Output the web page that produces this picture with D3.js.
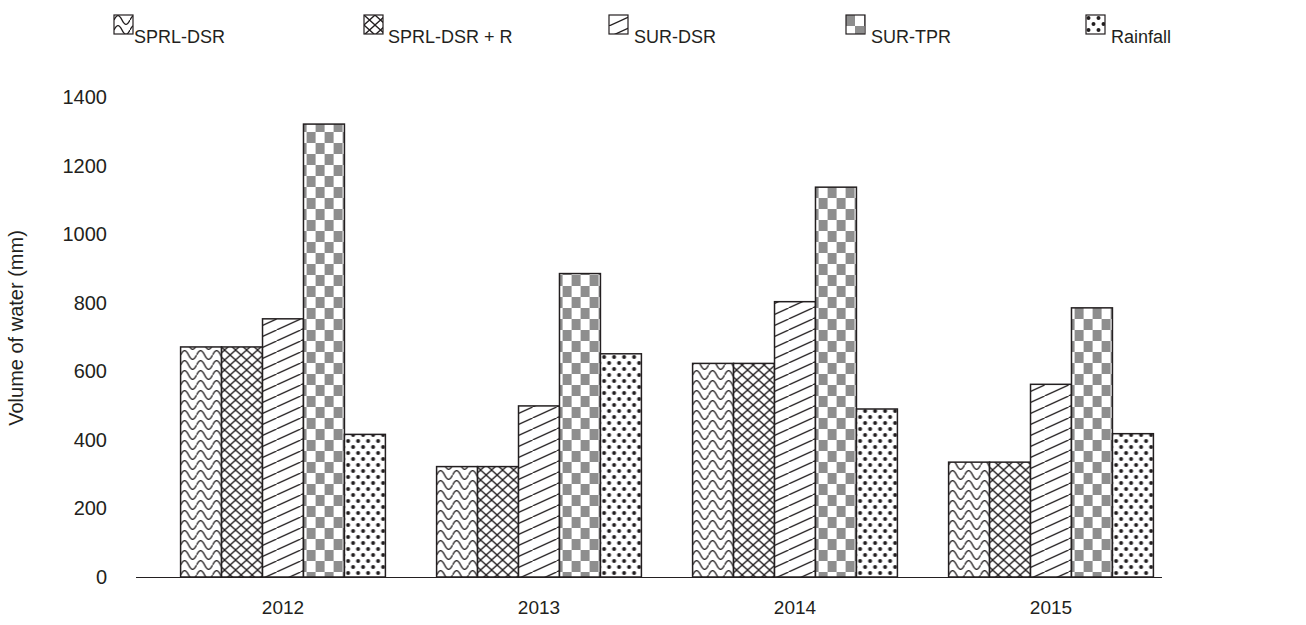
<!DOCTYPE html>
<html><head><meta charset="utf-8">
<script src="https://cdn.jsdelivr.net/npm/d3@7"></script>
<style>
html,body{margin:0;padding:0;background:#fff;}
svg text{font-family:"Liberation Sans",Arial,Helvetica,sans-serif;fill:#231f20;}
</style></head>
<body>
<svg id="chart" width="1306" height="625"></svg>
<script>
const years = ["2012","2013","2014","2015"];
const seriesNames = ["SPRL-DSR","SPRL-DSR + R","SUR-DSR","SUR-TPR","Rainfall"];
const sprlDsr   = [671, 322, 623, 335];
const sprlDsrR  = [671, 322, 623, 335];
const surDsr    = [753, 499, 803, 562];
const surTpr    = [1321, 885, 1137, 785];
const rainfall  = [416, 651, 490, 418];
const yTicks = [0,200,400,600,800,1000,1200,1400];

const seriesValues = [sprlDsr, sprlDsrR, surDsr, surTpr, rainfall];
const patternIds = ["pWave","pCross","pDiag","pCheck","pDots"];
const ink = "#231f20";

const svg = d3.select("#chart");
const defs = svg.append("defs");

// wave pattern
let p = defs.append("pattern").attr("id","pWave").attr("patternUnits","userSpaceOnUse")
  .attr("width",16).attr("height",10);
p.append("rect").attr("width",16).attr("height",10).attr("fill","#fff");
p.append("path").attr("d","M0,5 C3,-0.8 5,-0.8 8,5 C11,10.8 13,10.8 16,5")
  .attr("fill","none").attr("stroke",ink).attr("stroke-width",1.4);

// cross-hatch
p = defs.append("pattern").attr("id","pCross").attr("patternUnits","userSpaceOnUse")
  .attr("width",11).attr("height",10);
p.append("rect").attr("width",11).attr("height",10).attr("fill","#fff");
p.append("path").attr("d","M-1.1,-1 L12.1,11 M-1.1,11 L12.1,-1")
  .attr("stroke",ink).attr("stroke-width",1.3);

// diagonal
p = defs.append("pattern").attr("id","pDiag").attr("patternUnits","userSpaceOnUse")
  .attr("width",24).attr("height",11);
p.append("rect").attr("width",24).attr("height",11).attr("fill","#fff");
p.append("path").attr("d","M-2.4,12.1 L26.4,-1.1")
  .attr("stroke",ink).attr("stroke-width",1.3);

// checker
p = defs.append("pattern").attr("id","pCheck").attr("patternUnits","userSpaceOnUse")
  .attr("width",18).attr("height",22);
p.append("rect").attr("width",18).attr("height",22).attr("fill","#fff");
p.append("rect").attr("x",0).attr("y",0).attr("width",9).attr("height",11).attr("fill","#8e8e8e");
p.append("rect").attr("x",9).attr("y",11).attr("width",9).attr("height",11).attr("fill","#8e8e8e");

// dots
p = defs.append("pattern").attr("id","pDots").attr("patternUnits","userSpaceOnUse")
  .attr("width",10).attr("height",12);
p.append("rect").attr("width",10).attr("height",12).attr("fill","#fff");
p.append("circle").attr("cx",2.5).attr("cy",3).attr("r",2).attr("fill",ink);
p.append("circle").attr("cx",7.5).attr("cy",9).attr("r",2).attr("fill",ink);

const y = d3.scaleLinear().domain([0,1400]).range([577,97]);
const x0 = d3.scaleBand().domain(years).range([155,1179]).paddingInner(0.2).paddingOuter(0.1);
const x1 = d3.scaleBand().domain(seriesNames).range([0,x0.bandwidth()]);

// y tick labels
svg.append("g").selectAll("text").data(yTicks).join("text")
  .attr("x",107).attr("y",d=>y(d)).attr("dy","0.35em").attr("text-anchor","end")
  .attr("font-size",20).text(d=>d);

// axis title
svg.append("text").attr("transform","translate(23,328) rotate(-90)")
  .attr("text-anchor","middle").attr("font-size",20).text("Volume of water (mm)");

// bars
const groups = svg.append("g").selectAll("g").data(years).join("g")
  .attr("transform",d=>`translate(${x0(d)},0)`);
groups.selectAll("rect").data((d,i)=>seriesNames.map((s,j)=>({s, j, v: seriesValues[j][i]})))
  .join("rect")
  .attr("x",d=>x1(d.s)).attr("width",x1.bandwidth())
  .attr("y",d=>y(d.v)).attr("height",d=>y(0)-y(d.v))
  .attr("fill",d=>`url(#${patternIds[d.j]})`)
  .attr("stroke",ink).attr("stroke-width",1.5);

// x axis
const xAxis = d3.axisBottom(x0).tickSize(0).tickPadding(24);
const gx = svg.append("g").attr("transform",`translate(0,${y(0)})`).call(xAxis);
gx.select(".domain").attr("d",`M136,0.5H1162`).attr("stroke",ink).attr("stroke-width",1.2);
gx.selectAll("text").attr("font-size",19).attr("font-family","Liberation Sans, Arial, sans-serif").attr("fill",ink);

// legend
const legendX = [114, 364, 609, 846, 1086];
const legendTextDx = [20, 24, 25, 25, 25];
const lg = svg.append("g").selectAll("g").data(seriesNames).join("g")
  .attr("transform",(d,i)=>`translate(${legendX[i]},15)`);
lg.append("rect").attr("width",19).attr("height",19)
  .attr("fill",(d,i)=>`url(#${patternIds[i]})`).attr("stroke",ink).attr("stroke-width",1.2);
lg.append("text").attr("x",(d,i)=>legendTextDx[i]).attr("y",28).attr("font-size",18).text(d=>d);
</script>
</body></html>
